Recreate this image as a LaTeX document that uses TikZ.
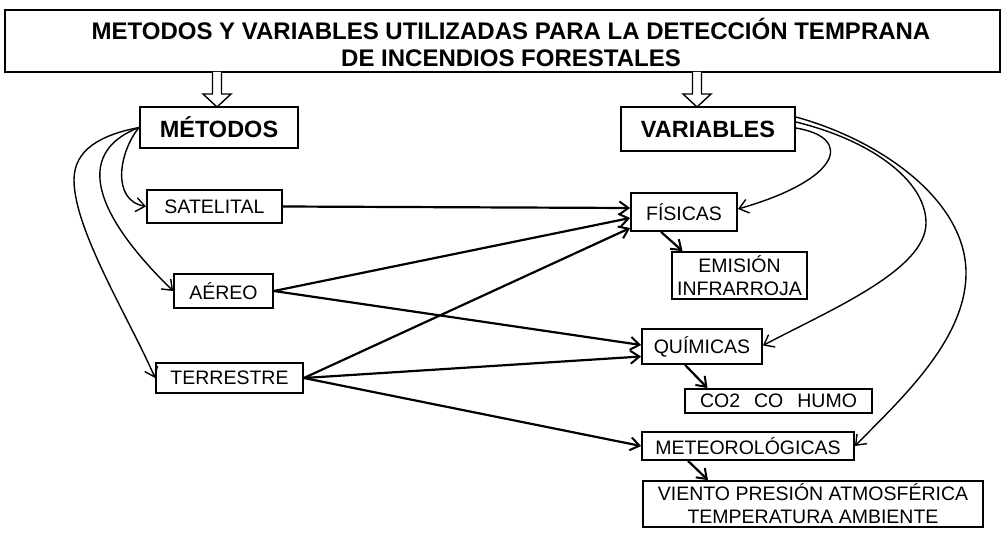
\documentclass[tikz,border=0pt]{standalone}
\usepackage{fontspec}
\setmainfont{Liberation Sans}
\usetikzlibrary{arrows.meta}
\begin{document}
\begin{tikzpicture}[x=1pt,y=-1pt,
  box/.style={draw, line width=1.8pt, inner sep=0pt, align=center, font=\fontsize{19.5}{23}\selectfont},
  bigbox/.style={draw, line width=1.8pt, inner sep=0pt, align=center, font=\fontsize{23.5}{27}\selectfont\bfseries},
  thick arrow/.style={line width=2.2pt, -{Straight Barb[length=9pt,width=13pt,line width=2pt]}},
  curve arrow/.style={line width=1.4pt, -{Straight Barb[length=9pt,width=14pt,line width=1.4pt]}},
  hollow/.style={line width=1.4pt, fill=white}]
\useasboundingbox (0,0) rectangle (1003,548);

\node[bigbox, minimum width=995pt, minimum height=62pt] (title) at (502.5,41) {};
\node[font=\fontsize{24}{27}\selectfont\bfseries, align=center] (titletext) at (511,42)
  {METODOS Y VARIABLES UTILIZADAS PARA LA DETECCIÓN TEMPRANA\\DE INCENDIOS FORESTALES};

\node[bigbox, minimum width=158pt, minimum height=41pt] (met) at (219,127.5) {MÉTODOS};
\node[bigbox, minimum width=174pt, minimum height=44pt] (var) at (708,129) {VARIABLES};

\node[box, minimum width=135pt, minimum height=33pt] (sat) at (214.5,206.5) {SATELITAL};
\node[box, minimum width=99pt, minimum height=34pt] (aer) at (223.5,291) {AÉREO};
\node[box, minimum width=147pt, minimum height=30pt] (ter) at (229.5,378) {TERRESTRE};

\node[box, minimum width=106pt, minimum height=38pt] (fis) at (684,212) {FÍSICAS};
\node[box, minimum width=135pt, minimum height=47pt] (emi) at (739.5,275.5) {EMISIÓN\\INFRARROJA};
\node[box, minimum width=120pt, minimum height=35pt] (qui) at (702,346.5) {QUÍMICAS};
\node[box, minimum width=187pt, minimum height=24pt] (co) at (778.5,401) {CO2\hspace{14pt}CO\hspace{14pt}HUMO};
\node[box, minimum width=212pt, minimum height=28pt] (meteo) at (748,446) {METEOROLÓGICAS};
\node[box, minimum width=340pt, minimum height=46pt] (vie) at (813,504) {VIENTO PRESIÓN ATMOSFÉRICA\\TEMPERATURA AMBIENTE};

% hollow arrows from title
\draw[hollow] (212.5,72) -- (212.5,94) -- (203,94) -- (217,107) -- (231,94) -- (221.5,94) -- (221.5,72);
\draw[hollow] (692.5,72) -- (692.5,94) -- (683,94) -- (697,107) -- (711,94) -- (701.5,94) -- (701.5,72);

% curves from MÉTODOS
\draw[curve arrow] (met.west) .. controls (120,150) and (110,200) .. (sat.west);
\draw[curve arrow] (met.west) .. controls (80,150) and (85,205) .. (aer.west);
\draw[curve arrow] (met.west) .. controls (100,135) and (74,150) .. (74,180)
  .. controls (74,230) and (130,320) .. (ter.west);

% curves from VARIABLES
\draw[curve arrow] ([yshift=1pt]var.east) .. controls (855,138) and (840,180) .. ([yshift=3pt]fis.east);
\draw[curve arrow] ([yshift=7pt]var.east) .. controls (870,140) and (926,180) .. (926,223)
  .. controls (926,270) and (830,310) .. ([yshift=1pt]qui.east);
\draw[curve arrow] ([yshift=12pt]var.east) .. controls (880,140) and (966,200) .. (966,273)
  .. controls (966,340) and (900,400) .. (meteo.east);

% straight arrows
\draw[thick arrow] (sat.east) -- ([yshift=4pt]fis.west);
\draw[thick arrow] (aer.east) -- ([yshift=-6pt]fis.west);
\draw[thick arrow] (ter.east) -- ([yshift=-16pt]fis.west);
\draw[thick arrow] (aer.east) -- ([yshift=1.5pt]qui.west);
\draw[thick arrow] (ter.east) -- ([yshift=-10pt]qui.west);
\draw[thick arrow] (ter.east) -- (meteo.west);

\draw[thick arrow] ([xshift=-23pt]fis.south) -- ([xshift=-57pt]emi.north);
\draw[thick arrow] ([xshift=-17pt]qui.south) -- ([xshift=-71pt]co.north);
\draw[thick arrow] ([xshift=-60pt]meteo.south) -- ([xshift=-105pt]vie.north);
\end{tikzpicture}
\end{document}
